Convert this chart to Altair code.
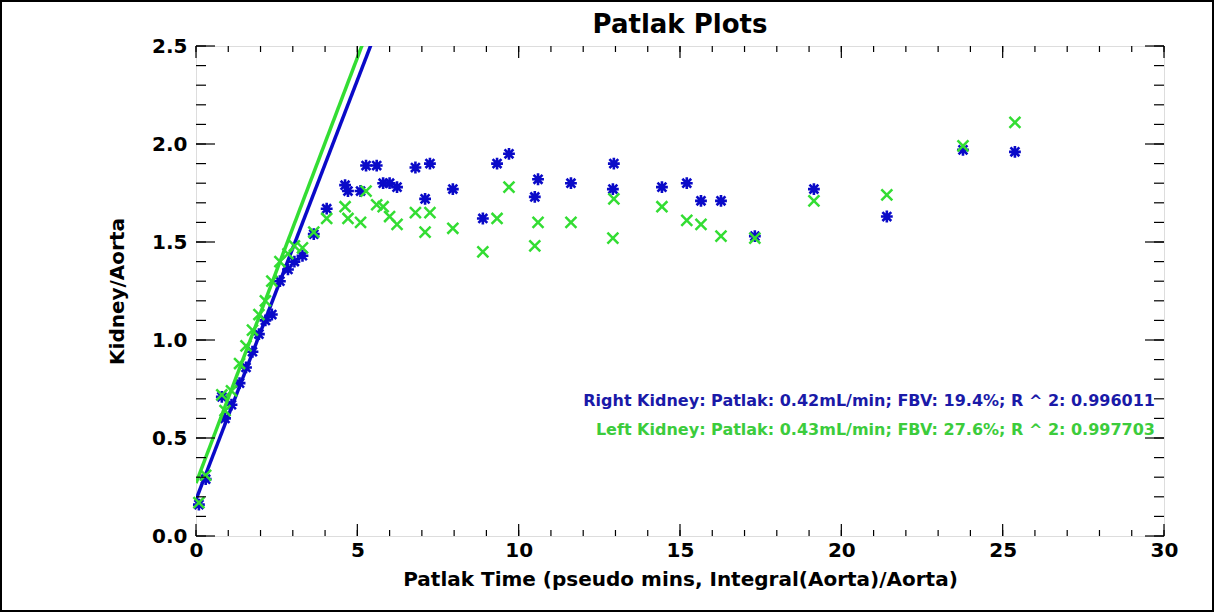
import altair as alt
import pandas as pd

# ---- data ----
patlak_time = [0.09, 0.3, 0.8, 0.9, 1.1, 1.35, 1.55, 1.75, 1.95, 2.15, 2.35, 2.6, 2.85, 3.05, 3.3, 3.65, 4.05,
               4.62, 4.71, 5.1, 5.27, 5.6, 5.8, 6.0, 6.23, 6.8, 7.1, 7.25, 7.96, 8.89, 9.33, 9.7, 10.5, 10.6,
               11.62, 12.92, 12.95, 14.44, 15.21, 15.65, 16.27, 17.32, 19.15, 21.41, 23.77, 25.38]
right_kidney = [0.16, 0.29, 0.71, 0.60, 0.67, 0.78, 0.86, 0.94, 1.03, 1.10, 1.13, 1.30, 1.36, 1.40, 1.43, 1.54, 1.67,
                1.79, 1.76, 1.76, 1.89, 1.89, 1.80, 1.80, 1.78, 1.88, 1.72, 1.90, 1.77, 1.62, 1.90, 1.95, 1.73, 1.82,
                1.80, 1.77, 1.90, 1.78, 1.80, 1.71, 1.71, 1.53, 1.77, 1.63, 1.97, 1.96]
left_kidney = [0.17, 0.31, 0.72, 0.64, 0.74, 0.88, 0.97, 1.05, 1.13, 1.20, 1.30, 1.40, 1.44, 1.48, 1.47, 1.55, 1.62,
               1.68, 1.62, 1.60, 1.76, 1.69, 1.68, 1.63, 1.59, 1.65, 1.55, 1.65, 1.57, 1.45, 1.62, 1.78, 1.48, 1.60,
               1.60, 1.52, 1.72, 1.68, 1.61, 1.59, 1.53, 1.52, 1.71, 1.74, 1.99, 2.11]

# fitted lines (endpoints)
fit_x = [0.0, 6.0]
right_fit = [0.185, 2.753]
left_fit = [0.27, 2.874]

x_major = [0, 5, 10, 15, 20, 25, 30]
x_minor = list(range(0, 31))
y_major = [0.0, 0.5, 1.0, 1.5, 2.0, 2.5]
y_minor = [0.0, 0.1, 0.2, 0.3, 0.4, 0.5, 0.6, 0.7, 0.8, 0.9, 1.0, 1.1, 1.2, 1.3, 1.4, 1.5,
           1.6, 1.7, 1.8, 1.9, 2.0, 2.1, 2.2, 2.3, 2.4, 2.5]

chart_title = "Patlak Plots"
right_label = "Right Kidney: Patlak: 0.42mL/min; FBV: 19.4%; R ^ 2: 0.996011"
left_label = "Left Kidney: Patlak: 0.43mL/min; FBV: 27.6%; R ^ 2: 0.997703"

BLUE = "#0a0ac8"
BLUE_TXT = "#1a1aa8"
GREEN = "#33dd33"
GREEN_TXT = "#3ccc3c"
FONT = "DejaVu Sans"

W, H = 968, 490

pts_r = pd.DataFrame({"x": patlak_time, "y": right_kidney})
pts_l = pd.DataFrame({"x": patlak_time, "y": left_kidney})
fit_r = pd.DataFrame({"x": fit_x, "y": right_fit})
fit_l = pd.DataFrame({"x": fit_x, "y": left_fit})

xs = alt.Scale(domain=[0, 30], nice=False, zero=False)
ys = alt.Scale(domain=[0, 2.5], nice=False, zero=False)

ASTER = "M-1,0L1,0M0,-1L0,1M-0.75,-0.75L0.75,0.75M-0.75,0.75L0.75,-0.75"
XMARK = "M-1,-1L1,1M-1,1L1,-1"

x_axis = alt.Axis(values=x_major, format="d", ticks=False, domain=False, grid=False,
                  labelFontSize=20, labelFontWeight="bold", labelFont=FONT, labelColor="black",
                  labelPadding=4, labelFlush=False, labelOverlap=False,
                  title="Patlak Time (pseudo mins, Integral(Aorta)/Aorta)",
                  titleFontSize=20, titleFontWeight="bold", titleFont=FONT, titleColor="black",
                  titlePadding=9)
y_axis = alt.Axis(values=y_major, format=".1f", ticks=False, domain=False, grid=False,
                  labelFontSize=20, labelFontWeight="bold", labelFont=FONT, labelColor="black",
                  labelPadding=9, labelFlush=False, labelOverlap=False,
                  title="Kidney/Aorta", titleFontSize=20, titleFontWeight="bold", titleFont=FONT,
                  titleColor="black", titlePadding=24)

def X(field="x"):
    return alt.X(f"{field}:Q", scale=xs, axis=x_axis)

def Y(field="y"):
    return alt.Y(f"{field}:Q", scale=ys, axis=y_axis)

line_r = alt.Chart(fit_r).mark_line(color=BLUE, strokeWidth=3.5, clip=True).encode(x=X(), y=Y())
pt_r = alt.Chart(pts_r).mark_point(shape=ASTER, color=BLUE, strokeWidth=2.6, size=140, opacity=1).encode(
    x=X(), y=Y())
line_l = alt.Chart(fit_l).mark_line(color=GREEN, strokeWidth=3.5, clip=True).encode(x=X(), y=Y())
pt_l = alt.Chart(pts_l).mark_point(shape=XMARK, color=GREEN, strokeWidth=2.5, size=120, opacity=1).encode(
    x=X(), y=Y())

def xticks(vals, length, top):
    df = pd.DataFrame({"x": vals})
    if top:
        yv, y2v = 0, length
    else:
        yv, y2v = H, H - length
    return alt.Chart(df).mark_rule(color="black", strokeWidth=1.2).encode(
        x=X(), y=alt.value(yv), y2=alt.value(y2v))

def yticks(vals, length, right):
    df = pd.DataFrame({"y": vals})
    if right:
        xv, x2v = W, W - length
    else:
        xv, x2v = 0, length
    return alt.Chart(df).mark_rule(color="black", strokeWidth=1.2).encode(
        y=Y(), x=alt.value(xv), x2=alt.value(x2v))

ticks = [xticks(x_major, 12, False), xticks(x_minor, 6, False),
         xticks(x_major, 12, True), xticks(x_minor, 6, True),
         yticks(y_major, 19, False), yticks(y_minor, 10, False),
         yticks(y_major, 19, True), yticks(y_minor, 10, True)]

dummy = alt.Data(values=[{}])
txt_r = alt.Chart(dummy).mark_text(align="right", baseline="middle", font=FONT, fontSize=16,
                                   fontWeight="bold", color=BLUE_TXT).encode(
    x=alt.value(959), y=alt.value(355), text=alt.value(right_label))
txt_l = alt.Chart(dummy).mark_text(align="right", baseline="middle", font=FONT, fontSize=16,
                                   fontWeight="bold", color=GREEN_TXT).encode(
    x=alt.value(959), y=alt.value(384), text=alt.value(left_label))
txt_title = alt.Chart(dummy).mark_text(align="center", baseline="middle", font=FONT, fontSize=26,
                                       fontWeight="bold", color="black", clip=False).encode(
    x=alt.value(W / 2), y=alt.value(-21), text=alt.value(chart_title))

border = alt.Chart(dummy).mark_rect(fill=None, stroke="black", strokeWidth=2, clip=False).encode(
    x=alt.value(-195), x2=alt.value(1017), y=alt.value(-45), y2=alt.value(565))

chart = alt.layer(line_r, pt_r, line_l, pt_l, *ticks, txt_r, txt_l, txt_title, border).properties(
    width=W, height=H,
    autosize=alt.AutoSizeParams(type="none"),
    padding={"left": 196, "top": 46, "right": 51, "bottom": 76},
).configure_view(stroke="black", strokeWidth=1.5).configure(background="white")

chart.save("out.html", embed_options={"renderer": "svg", "actions": False})
